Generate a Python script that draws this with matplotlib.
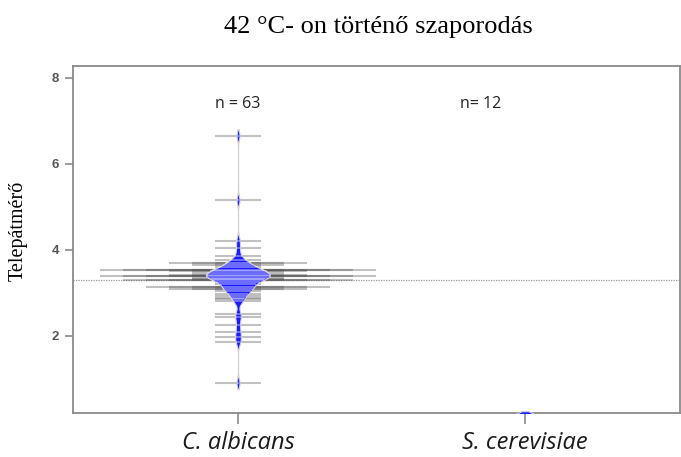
import numpy as np
import matplotlib
matplotlib.use("Agg")
import matplotlib.pyplot as plt

# ---------------- data ----------------
categories = ["C. albicans", "S. cerevisiae"]
albicans_values = [6.66, 5.16, 4.22, 4.04, 3.86, 3.76, 3.69, 3.66, 3.60, 3.53, 3.50, 3.46,
                   3.42, 3.40, 3.36, 3.32, 3.30, 3.26, 3.20, 3.13, 3.09, 3.04, 2.98, 2.94,
                   2.89, 2.85, 2.81, 2.51, 2.45, 2.26, 2.09, 1.97, 1.85, 0.91]
albicans_counts = [1, 1, 1, 1, 1, 1, 3, 2, 1, 6, 3, 2,
                   3, 6, 2, 2, 5, 1, 1, 4, 3, 1, 1, 1,
                   1, 1, 1, 1, 1, 1, 1, 1, 1, 1]
cerevisiae_values = [0.0]
cerevisiae_counts = [12]
n_labels = ["n = 63", "n= 12"]
overall_line = 3.31
yticks = [2, 4, 6, 8]
title = "42 °C- on történő szaporodás"
ylabel = "Telepátmérő"

# ---------------- figure ----------------
fig = plt.figure(figsize=(6.81, 4.57), dpi=100)
ax = fig.add_axes([73/681, 1-413/457, 607/681, (413-66)/457])
ax.set_xlim(0.425, 2.54)
ax.set_ylim(0.209, 8.279)

positions = [1, 2]
beans = [(albicans_values, albicans_counts, 0.1, 0.15),
         (cerevisiae_values, cerevisiae_counts, 0.12, 0.25)]
maxw = 0.111
base = 0.080

# overall line
ax.axhline(overall_line, color="#9a9a9a", lw=0.9, ls=(0, (1, 1)), zorder=1)

for pos, (vals, cnts, bw, cut) in zip(positions, beans):
    vals = np.asarray(vals, float)
    cnts = np.asarray(cnts, float)
    # beanlines outside (stacked for duplicates)
    for v, c in zip(vals, cnts):
        for k in range(1, int(c) + 1):
            ax.plot([pos - base*k, pos + base*k], [v, v], color="#555555",
                    alpha=0.36, lw=1.5, solid_capstyle="butt", zorder=2)
    ys = np.linspace(vals.min() - cut, vals.max() + cut, 2000)
    dens = np.zeros_like(ys)
    for v, c in zip(vals, cnts):
        dens += c * np.exp(-0.5*((ys - v)/bw)**2)
    w = dens / dens.max() * maxw
    ax.fill_betweenx(ys, pos - w, pos + w, facecolor="#1a1aff",
                     edgecolor="#d0d0d0", lw=0.8, zorder=3)
    # beanlines inside the bean
    for v in vals:
        wi = np.interp(v, ys, w)
        ax.plot([pos - wi, pos + wi], [v, v], color="white", alpha=0.4,
                lw=1.3, solid_capstyle="butt", zorder=4)

# n labels
ax.text(1.0, 7.4, n_labels[0], ha="center", va="center", fontsize=11.5,
        family="Open Sans", color="#222222")
ax.text(1.845, 7.4, n_labels[1], ha="center", va="center", fontsize=11.5,
        family="Open Sans", color="#222222")

# spines / ticks
for s in ax.spines.values():
    s.set_color("#8a8a8a")
    s.set_linewidth(1.3)
ax.set_yticks(yticks)
ax.set_yticklabels([str(t) for t in yticks], fontsize=9.5, color="#555555",
                   fontweight="bold", family="Liberation Sans")
ax.tick_params(axis="y", length=6, width=1.2, color="#8a8a8a", pad=4)
ax.set_xticks(positions)
ax.set_xticklabels(categories, fontsize=17, style="italic", family="Open Sans",
                   color="#1a1a1a")
ax.tick_params(axis="x", length=8, width=1.2, color="#8a8a8a", pad=5)

fig.text(378/681, 1-27/457, title, ha="center", va="center", fontsize=19,
         family="Liberation Serif")
fig.text(18/681, 1-231/457, ylabel, ha="center", va="center", rotation=90,
         fontsize=14.5, family="Liberation Serif")

fig.savefig("out.png", dpi=100)
